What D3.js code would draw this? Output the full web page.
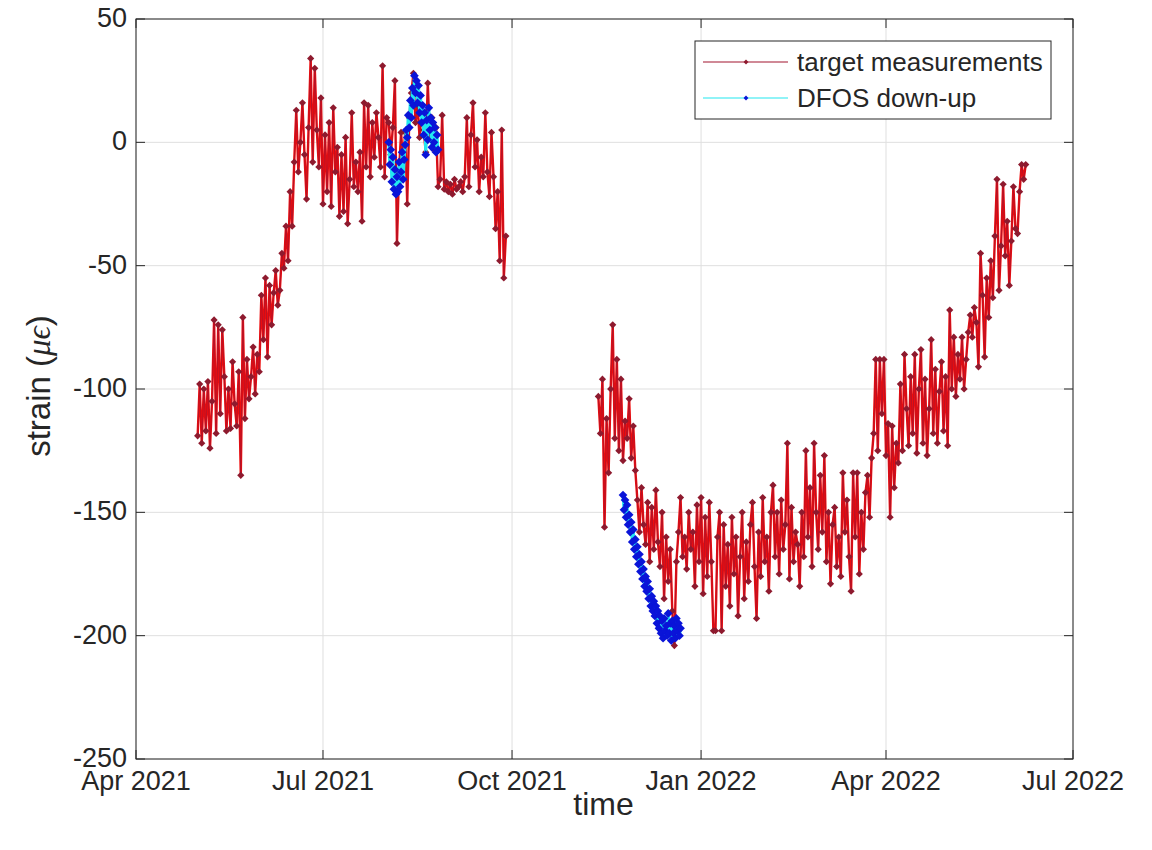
<!DOCTYPE html>
<html>
<head>
<meta charset="utf-8">
<script src="https://cdn.jsdelivr.net/npm/d3@7"></script>
<style>
  body { margin: 0; background: #fff; }
  text { font-family: "Liberation Sans", Arial, sans-serif; fill: #262626; }
</style>
</head>
<body>
<div id="container"></div>
<script>
// daily readings, first segment starts 1 May 2021
const targetStart1 = new Date(2021, 4, 1);
const target1 = [
  -119, -98, -122, -100, -117, -97, -124, -105, -72, -118,
  -74, -110, -76, -95, -117, -100, -116, -89, -106, -115,
  -93, -135, -71, -112, -88, -104, -95, -83, -102, -86,
  -93, -62, -80, -55, -87, -58, -74, -61, -52, -66,
  -60, -45, -51, -34, -48, -20, -34, -8, 13, -12,
  0, 16, -5, -23, 6, 34, -8, 30, 5, -10,
  18, -25, 3, -20, 8, -26, 14, -12, -2, -30,
  -5, -28, 2, -33, -15, 12, -18, -8, -20, -4,
  -32, 16, -10, 15, -14, 8, -6, 12, 2, -10,
  31, -14, 10, 8, -5, 6, 25, -41, -12, 4,
  -8, 4, -25, 10, 20, 28, 8, 15, 2, 12,
  5, -4, 24, 2, 10, -3, 6, -18, -15, 11,
  -19, -16, -20, -17, -21, -15, -19, -18, -16, -20,
  -14, 10, -18, 3, 16, -10, 1, -20, -6, -14,
  12, -12, -22, 4, -14, -35, -20, -48, 5, -55, -38
];

// second segment starts 12 Nov 2021
const targetStart2 = new Date(2021, 10, 12);
const target2 = [
  -103, -118, -96, -156, -112, -134, -100, -74, -120, -88,
  -125, -96, -129, -113, -120, -104, -128, -115, -133, -145,
  -158, -140, -155, -163, -146, -170, -148, -165, -141, -162,
  -172, -150, -185, -160, -178, -165, -190, -204, -170, -158,
  -144, -168, -160, -173, -150, -165, -158, -180, -147, -170,
  -144, -183, -152, -176, -146, -170, -198, -198, -160, -150,
  -198, -155, -180, -163, -188, -152, -175, -160, -192, -168,
  -150, -185, -162, -178, -155, -146, -172, -193, -158, -176,
  -144, -170, -160, -182, -150, -139, -168, -150, -175, -145,
  -165, -155, -122, -177, -148, -170, -158, -163, -180, -150,
  -168, -125, -160, -140, -172, -122, -150, -165, -135, -158,
  -127, -170, -150, -179, -155, -148, -172, -160, -176, -134,
  -158, -145, -168, -182, -134, -160, -134, -175, -150, -165,
  -142, -135, -152, -128, -118, -88, -125, -88, -110, -88,
  -127, -114, -152, -115, -140, -122, -130, -98, -125, -86,
  -108, -123, -95, -118, -86, -126, -100, -84, -122, -96,
  -127, -108, -80, -118, -92, -122, -101, -89, -117, -95,
  -123, -68, -100, -79, -103, -86, -96, -79, -100, -88,
  -77, -70, -79, -67, -73, -91, -45, -62, -87, -55,
  -71, -48, -63, -38, -15, -60, -42, -17, -46, -32,
  -58, -40, -18, -35, -37, -20, -9, -15, -9
];

// DFOS readings every 12 h
const dfosStart1 = new Date(2021, 7, 2);
const dfos1 = [
  0, -9, -3, -16, -6, -19, -11, -21, -14, -20,
  -8, -18, -12, -4, -15, -7, -1, 5, 2, 11,
  6, 17, 10, 22, 15, 27, 20, 25, 16, 23,
  12, 19, 8, 15, 3, 12, -5, 9, 1, 14,
  5, 10, -2, 8, 0, 6, -4, 3, -3
];
const dfosStart2 = new Date(2021, 10, 24);
const dfos2 = [
  -143, -149, -145, -152, -147, -155, -151, -158, -154, -162,
  -157, -165, -161, -168, -164, -171, -167, -174, -170, -177,
  -173, -180, -176, -182, -178, -185, -181, -188, -184, -190,
  -186, -192, -188, -195, -190, -197, -192, -199, -194, -201,
  -193, -198, -196, -200, -191, -199, -195, -202, -194, -199,
  -196, -201, -193, -198, -195, -200, -197
];

const yTicks = [-250, -200, -150, -100, -50, 0, 50];
const seriesNames = ['target measurements', 'DFOS down-up'];

const W = 1152, H = 850;
const mLeft = 136, mRight = 1073, mTop = 19, mBottom = 759;

const svg = d3.select('#container').append('svg')
  .attr('width', W)
  .attr('height', H);

const x = d3.scaleTime()
  .domain([new Date(2021, 3, 1), new Date(2022, 6, 1)])
  .range([mLeft, mRight]);
const y = d3.scaleLinear()
  .domain([-250, 50])
  .range([mBottom, mTop]);

const xTicks = x.ticks(d3.timeMonth.every(3));

// grid
const grid = svg.append('g').attr('stroke', '#dfdfdf').attr('stroke-width', 1);
grid.selectAll('.gx').data(xTicks).enter().append('line')
  .attr('x1', d => x(d)).attr('x2', d => x(d))
  .attr('y1', mTop).attr('y2', mBottom);
grid.selectAll('.gy').data(yTicks).enter().append('line')
  .attr('x1', mLeft).attr('x2', mRight)
  .attr('y1', d => y(d)).attr('y2', d => y(d));

const daily = (start, vals) => vals.map((v, i) => ({ t: d3.timeDay.offset(start, i), v }));
const halfDaily = (start, vals) => vals.map((v, i) => ({ t: d3.timeHour.offset(start, 12 * i), v }));

const targetSegs = [daily(targetStart1, target1), daily(targetStart2, target2)];
const dfosSegs = [halfDaily(dfosStart1, dfos1), halfDaily(dfosStart2, dfos2)];

const line = d3.line().x(d => x(d.t)).y(d => y(d.v));
// matlab style 'd' marker: a square turned 45 degrees
const diamond = s => d3.symbol().type(d3.symbolSquare).size(s);

const plot = svg.append('g');

// target measurements
targetSegs.forEach(seg => {
  plot.append('path').datum(seg)
    .attr('d', line)
    .attr('fill', 'none')
    .attr('stroke', '#f00c0c')
    .attr('stroke-width', 2.4);
  plot.append('path').datum(seg)
    .attr('d', line)
    .attr('fill', 'none')
    .attr('stroke', '#a2142f')
    .attr('stroke-width', 0.7);
  plot.append('g').selectAll('path').data(seg).enter().append('path')
    .attr('d', diamond(26))
    .attr('fill', '#8e1a2e')
    .attr('transform', d => `translate(${x(d.t)},${y(d.v)}) rotate(45)`);
});

// DFOS
dfosSegs.forEach(seg => {
  plot.append('path').datum(seg)
    .attr('d', line)
    .attr('fill', 'none')
    .attr('stroke', '#22e8f0')
    .attr('stroke-width', 3);
  plot.append('g').selectAll('path').data(seg).enter().append('path')
    .attr('d', diamond(38))
    .attr('fill', '#0a14d8')
    .attr('transform', d => `translate(${x(d.t)},${y(d.v)}) rotate(45)`);
});

// box + ticks
const axisCol = '#262626';
svg.append('rect')
  .attr('x', mLeft).attr('y', mTop)
  .attr('width', mRight - mLeft).attr('height', mBottom - mTop)
  .attr('fill', 'none').attr('stroke', axisCol).attr('stroke-width', 1);

const tk = svg.append('g').attr('stroke', axisCol).attr('stroke-width', 1);
const tl = 9;
xTicks.forEach(d => {
  tk.append('line').attr('x1', x(d)).attr('x2', x(d)).attr('y1', mBottom).attr('y2', mBottom - tl);
  tk.append('line').attr('x1', x(d)).attr('x2', x(d)).attr('y1', mTop).attr('y2', mTop + tl);
});
yTicks.forEach(d => {
  tk.append('line').attr('x1', mLeft).attr('x2', mLeft + tl).attr('y1', y(d)).attr('y2', y(d));
  tk.append('line').attr('x1', mRight).attr('x2', mRight - tl).attr('y1', y(d)).attr('y2', y(d));
});

const fmt = d3.timeFormat('%b %Y');
svg.append('g').selectAll('text').data(xTicks).enter().append('text')
  .attr('x', d => x(d))
  .attr('y', mBottom + 31)
  .attr('text-anchor', 'middle')
  .style('font-size', '27px')
  .text(d => fmt(d));

svg.append('g').selectAll('text').data(yTicks).enter().append('text')
  .attr('x', mLeft - 9)
  .attr('y', d => y(d))
  .attr('dy', '0.3em')
  .attr('text-anchor', 'end')
  .style('font-size', '27px')
  .text(d => d);

svg.append('text')
  .attr('x', (mLeft + mRight) / 2 - 1)
  .attr('y', 815)
  .attr('text-anchor', 'middle')
  .style('font-size', '32px')
  .text('time');

const yl = svg.append('text')
  .attr('transform', `translate(50,${(mTop + mBottom) / 2 - 3}) rotate(-90)`)
  .attr('text-anchor', 'middle')
  .style('font-size', '33px');
yl.append('tspan').text('strain (');
yl.append('tspan').style('font-family', '"Liberation Serif", serif').style('font-style', 'italic').text('μϵ');
yl.append('tspan').text(')');

// legend
const lg = svg.append('g');
lg.append('rect')
  .attr('x', 695).attr('y', 41)
  .attr('width', 356).attr('height', 78)
  .attr('fill', '#fff').attr('stroke', axisCol).attr('stroke-width', 1);
const lgItems = [
  { name: seriesNames[0], line: '#a2142f', mark: '#8e1a2e' },
  { name: seriesNames[1], line: '#22e8f0', mark: '#0a14d8' }
];
lgItems.forEach((it, i) => {
  const ly = 62 + i * 36;
  lg.append('line').attr('x1', 703).attr('x2', 788).attr('y1', ly).attr('y2', ly)
    .attr('stroke', it.line).attr('stroke-width', 1.2);
  lg.append('path').attr('d', diamond(12)).attr('fill', it.mark)
    .attr('transform', `translate(746,${ly}) rotate(45)`);
  lg.append('text').attr('x', 797).attr('y', ly).attr('dy', '0.35em')
    .style('font-size', '26px').text(it.name);
});
</script>
</body>
</html>
